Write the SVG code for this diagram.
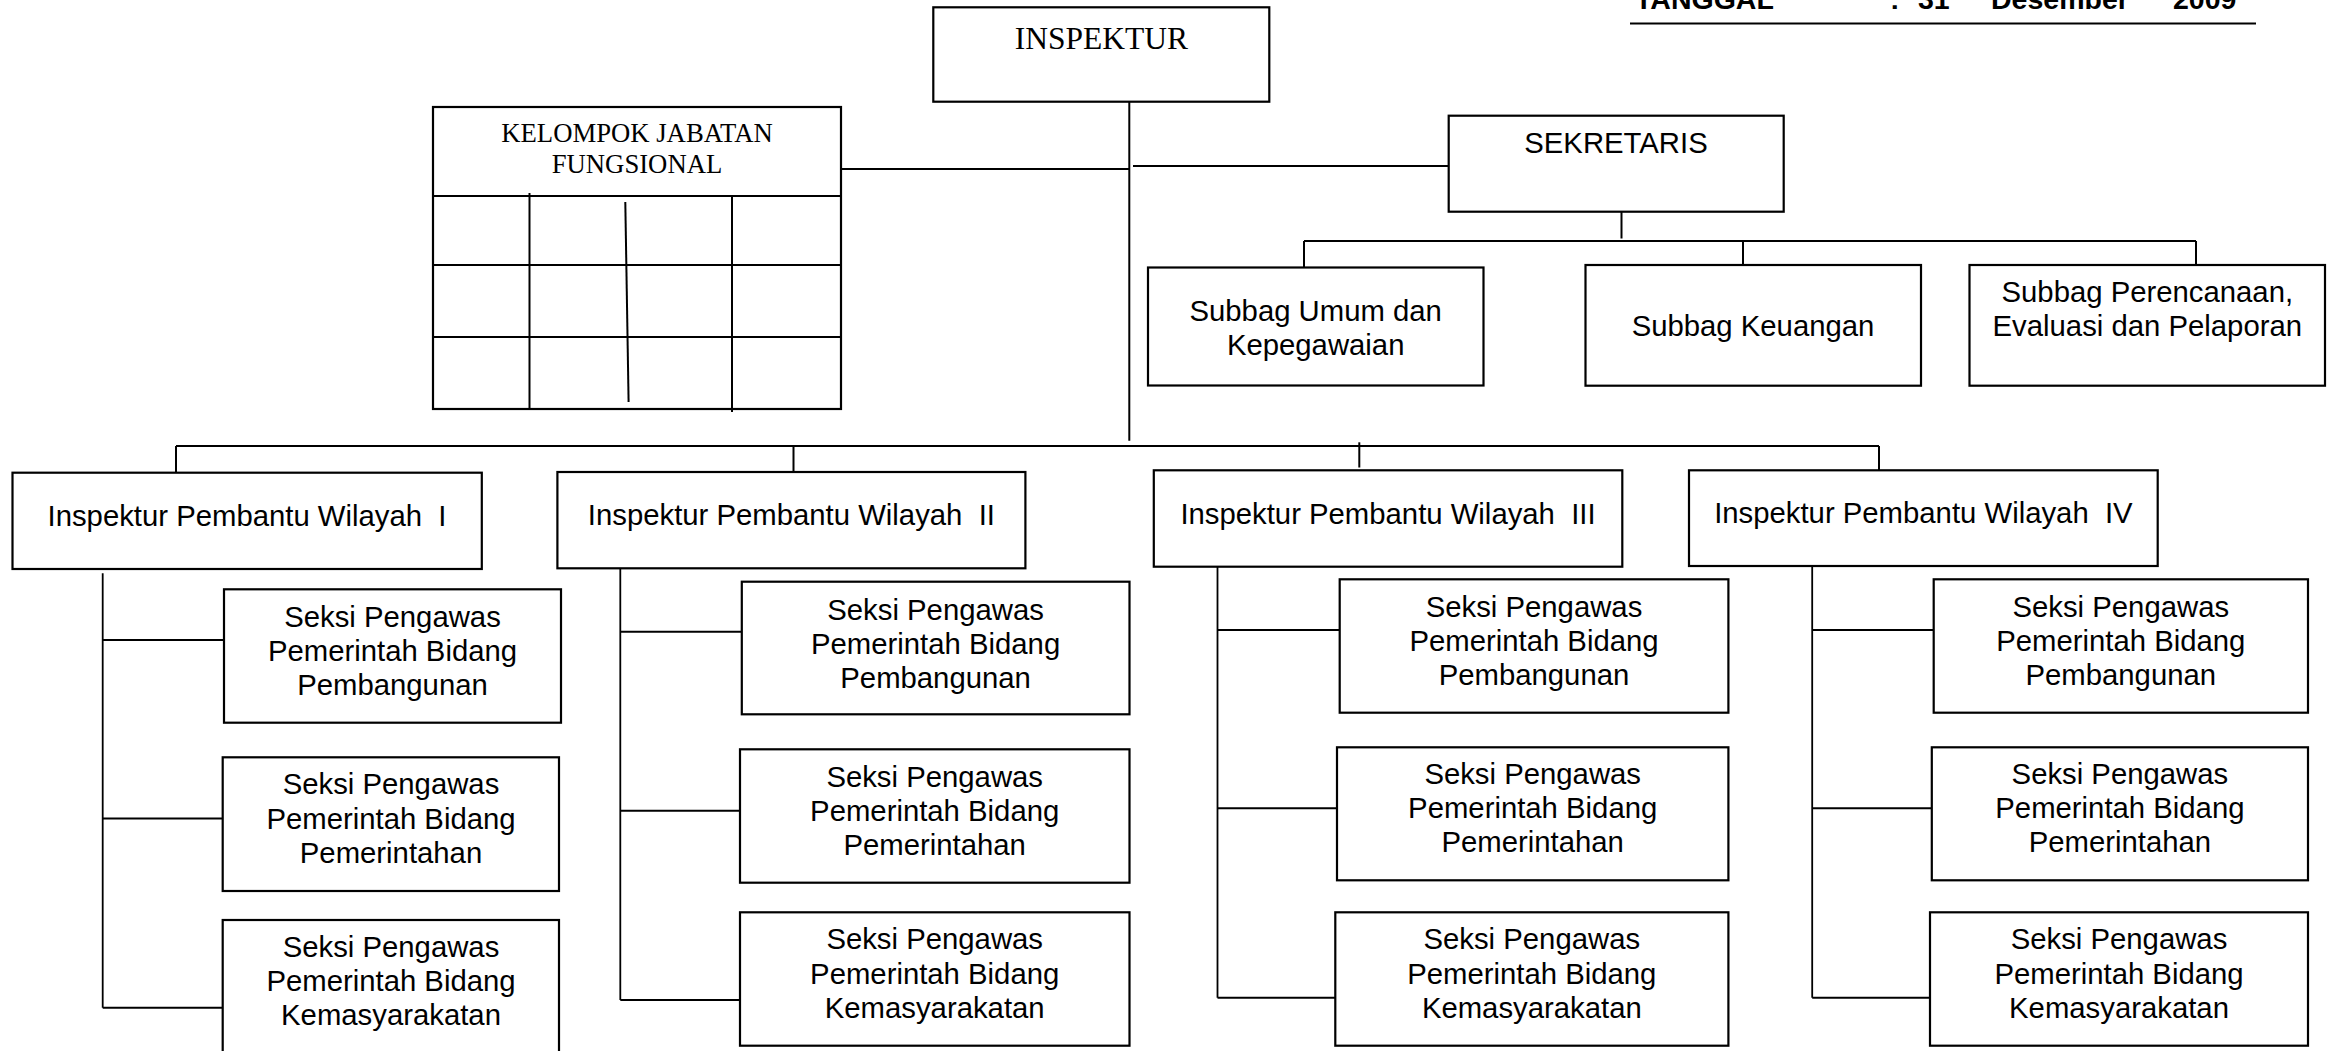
<svg xmlns="http://www.w3.org/2000/svg" width="2334" height="1051" viewBox="0 0 2334 1051">
<style>
.box{fill:#fff;stroke:#000;stroke-width:2.2}
.ln{stroke:#000;stroke-width:2;fill:none}
.thin{stroke:#000;stroke-width:1.8;fill:none}
.t{font-family:"Liberation Sans",Arial,sans-serif;font-size:29.3px;fill:#000;text-anchor:middle}
.tr{font-family:"Liberation Serif","Times New Roman",serif;fill:#000;text-anchor:middle}
.hd{font-family:"Liberation Sans",Arial,sans-serif;font-size:28.5px;font-weight:bold;fill:#000}
</style>
<rect width="2334" height="1051" fill="#fff"/>

<g id="header">
<text class="hd" y="8.5"><tspan x="1635">TANGGAL</tspan><tspan x="1890">:</tspan><tspan x="1918">31</tspan><tspan x="1991">Desember</tspan><tspan x="2173">2009</tspan></text>
<line class="ln" x1="1630" y1="23.5" x2="2256" y2="23.5" stroke-width="2.5"/>
</g>

<g id="connectors">
<line class="ln" x1="841" y1="169" x2="1129" y2="169"/>
<line class="ln" x1="1129.3" y1="102" x2="1129.3" y2="440.7"/>
<line class="ln" x1="1133" y1="166" x2="1449" y2="166"/>
<line class="ln" x1="1621.5" y1="212" x2="1621.5" y2="238.5"/>
<line class="ln" x1="1304" y1="241" x2="2196" y2="241"/>
<line class="ln" x1="1304" y1="241" x2="1304" y2="267.5"/>
<line class="ln" x1="1743" y1="241" x2="1743" y2="265"/>
<line class="ln" x1="2196" y1="241" x2="2196" y2="265"/>
<line class="ln" x1="176" y1="446" x2="1879" y2="446"/>
<line class="ln" x1="176" y1="446" x2="176" y2="472.7"/>
<line class="ln" x1="793.5" y1="446" x2="793.5" y2="472"/>
<line class="ln" x1="1359.3" y1="442.3" x2="1359.3" y2="467.5"/>
<line class="ln" x1="1879" y1="446" x2="1879" y2="470.3"/>
<line class="thin" x1="102.7" y1="573.3" x2="102.7" y2="1007.7"/>
<line class="ln" x1="102.7" y1="640" x2="224" y2="640"/>
<line class="ln" x1="102.7" y1="818.5" x2="222.7" y2="818.5"/>
<line class="ln" x1="102.7" y1="1007.7" x2="222.7" y2="1007.7"/>
<line class="thin" x1="620.3" y1="565" x2="620.3" y2="1000"/>
<line class="ln" x1="620.3" y1="631.7" x2="741.8" y2="631.7"/>
<line class="ln" x1="620.3" y1="810.7" x2="740" y2="810.7"/>
<line class="ln" x1="620.3" y1="1000" x2="740" y2="1000"/>
<line class="thin" x1="1217.5" y1="563.3" x2="1217.5" y2="997.7"/>
<line class="ln" x1="1217.5" y1="630" x2="1339.7" y2="630"/>
<line class="ln" x1="1217.5" y1="808.3" x2="1337" y2="808.3"/>
<line class="ln" x1="1217.5" y1="997.7" x2="1335.3" y2="997.7"/>
<line class="thin" x1="1812.2" y1="563.3" x2="1812.2" y2="997.7"/>
<line class="ln" x1="1812.2" y1="630" x2="1933.7" y2="630"/>
<line class="ln" x1="1812.2" y1="808.3" x2="1931.8" y2="808.3"/>
<line class="ln" x1="1812.2" y1="997.7" x2="1930" y2="997.7"/>
</g>

<g id="inspektur">
<rect class="box" x="933.3" y="7.3" width="336" height="94.4"/>
<text class="tr" x="1101.3" y="49" font-size="31.5">INSPEKTUR</text>
</g>

<g id="kelompok">
<rect class="box" x="433" y="107" width="408" height="302"/>
<text class="tr" font-size="26.7"><tspan x="637" y="141.7">KELOMPOK JABATAN</tspan><tspan x="637" y="173">FUNGSIONAL</tspan></text>
<line class="ln" x1="433" y1="196" x2="841" y2="196"/>
<line class="ln" x1="433" y1="265" x2="841" y2="265"/>
<line class="ln" x1="433" y1="337" x2="841" y2="337"/>
<line class="ln" x1="529.5" y1="193" x2="529.5" y2="409"/>
<line class="ln" x1="625.3" y1="202" x2="628.6" y2="402"/>
<line class="ln" x1="732" y1="196" x2="732" y2="412"/>
</g>

<g id="sekretaris">
<rect class="box" x="1448.7" y="115.7" width="335" height="96"/>
<text class="t" x="1616" y="153.3">SEKRETARIS</text>
</g>

<g id="subbag-umum">
<rect class="box" x="1148" y="267.5" width="335.5" height="118"/>
<text class="t"><tspan x="1315.7" y="321">Subbag Umum dan</tspan><tspan x="1315.7" y="355">Kepegawaian</tspan></text>
</g>
<g id="subbag-keuangan">
<rect class="box" x="1585.5" y="265" width="335.5" height="120.7"/>
<text class="t" x="1753" y="336">Subbag Keuangan</text>
</g>
<g id="subbag-perencanaan">
<rect class="box" x="1969.5" y="265" width="355.5" height="120.7"/>
<text class="t"><tspan x="2147.3" y="302">Subbag Perencanaan,</tspan><tspan x="2147.3" y="336">Evaluasi dan Pelaporan</tspan></text>
</g>

<g id="ipw-1">
<rect class="box" x="12.5" y="472.7" width="469.3" height="96.3"/>
<text class="t" x="247" y="526" xml:space="preserve">Inspektur Pembantu Wilayah  I</text>
</g>
<g id="ipw-2">
<rect class="box" x="557.4" y="472" width="468" height="96.3"/>
<text class="t" x="791.4" y="525" xml:space="preserve">Inspektur Pembantu Wilayah  II</text>
</g>
<g id="ipw-3">
<rect class="box" x="1153.8" y="470.3" width="468.5" height="96.4"/>
<text class="t" x="1388" y="524" xml:space="preserve">Inspektur Pembantu Wilayah  III</text>
</g>
<g id="ipw-4">
<rect class="box" x="1689" y="470.3" width="468.7" height="95.7"/>
<text class="t" x="1923.4" y="523.3" xml:space="preserve">Inspektur Pembantu Wilayah  IV</text>
</g>

<g id="seksi-1-1">
<rect class="box" x="224" y="589.3" width="337" height="133.4"/>
<text class="t"><tspan x="392.5" y="626.5">Seksi Pengawas</tspan><tspan x="392.5" dy="34.2">Pemerintah Bidang</tspan><tspan x="392.5" dy="34.2">Pembangunan</tspan></text>
</g>
<g id="seksi-1-2">
<rect class="box" x="222.7" y="757.3" width="336.3" height="133.7"/>
<text class="t"><tspan x="391" y="794.3">Seksi Pengawas</tspan><tspan x="391" dy="34.2">Pemerintah Bidang</tspan><tspan x="391" dy="34.2">Pemerintahan</tspan></text>
</g>
<g id="seksi-1-3">
<rect class="box" x="222.7" y="920" width="336.3" height="140"/>
<text class="t"><tspan x="391" y="956.8">Seksi Pengawas</tspan><tspan x="391" dy="34.2">Pemerintah Bidang</tspan><tspan x="391" dy="34.2">Kemasyarakatan</tspan></text>
</g>

<g id="seksi-2-1">
<rect class="box" x="741.8" y="581.7" width="387.7" height="132.6"/>
<text class="t"><tspan x="935.6" y="619.5">Seksi Pengawas</tspan><tspan x="935.6" dy="34.2">Pemerintah Bidang</tspan><tspan x="935.6" dy="34.2">Pembangunan</tspan></text>
</g>
<g id="seksi-2-2">
<rect class="box" x="740" y="749.3" width="389.5" height="133.4"/>
<text class="t"><tspan x="934.7" y="786.7">Seksi Pengawas</tspan><tspan x="934.7" dy="34.2">Pemerintah Bidang</tspan><tspan x="934.7" dy="34.2">Pemerintahan</tspan></text>
</g>
<g id="seksi-2-3">
<rect class="box" x="740" y="912.3" width="389.5" height="133.4"/>
<text class="t"><tspan x="934.7" y="949.3">Seksi Pengawas</tspan><tspan x="934.7" dy="34.2">Pemerintah Bidang</tspan><tspan x="934.7" dy="34.2">Kemasyarakatan</tspan></text>
</g>

<g id="seksi-3-1">
<rect class="box" x="1339.7" y="579.3" width="388.7" height="133.4"/>
<text class="t"><tspan x="1534" y="616.5">Seksi Pengawas</tspan><tspan x="1534" dy="34.2">Pemerintah Bidang</tspan><tspan x="1534" dy="34.2">Pembangunan</tspan></text>
</g>
<g id="seksi-3-2">
<rect class="box" x="1337" y="747.3" width="391.4" height="133"/>
<text class="t"><tspan x="1532.7" y="784">Seksi Pengawas</tspan><tspan x="1532.7" dy="34.2">Pemerintah Bidang</tspan><tspan x="1532.7" dy="34.2">Pemerintahan</tspan></text>
</g>
<g id="seksi-3-3">
<rect class="box" x="1335.3" y="912.3" width="393.1" height="133.4"/>
<text class="t"><tspan x="1531.8" y="949.3">Seksi Pengawas</tspan><tspan x="1531.8" dy="34.2">Pemerintah Bidang</tspan><tspan x="1531.8" dy="34.2">Kemasyarakatan</tspan></text>
</g>

<g id="seksi-4-1">
<rect class="box" x="1933.7" y="579.3" width="374.3" height="133.4"/>
<text class="t"><tspan x="2120.8" y="616.5">Seksi Pengawas</tspan><tspan x="2120.8" dy="34.2">Pemerintah Bidang</tspan><tspan x="2120.8" dy="34.2">Pembangunan</tspan></text>
</g>
<g id="seksi-4-2">
<rect class="box" x="1931.8" y="747.3" width="376.2" height="133"/>
<text class="t"><tspan x="2119.9" y="784">Seksi Pengawas</tspan><tspan x="2119.9" dy="34.2">Pemerintah Bidang</tspan><tspan x="2119.9" dy="34.2">Pemerintahan</tspan></text>
</g>
<g id="seksi-4-3">
<rect class="box" x="1930" y="912.3" width="378" height="133.4"/>
<text class="t"><tspan x="2119" y="949.3">Seksi Pengawas</tspan><tspan x="2119" dy="34.2">Pemerintah Bidang</tspan><tspan x="2119" dy="34.2">Kemasyarakatan</tspan></text>
</g>
</svg>
